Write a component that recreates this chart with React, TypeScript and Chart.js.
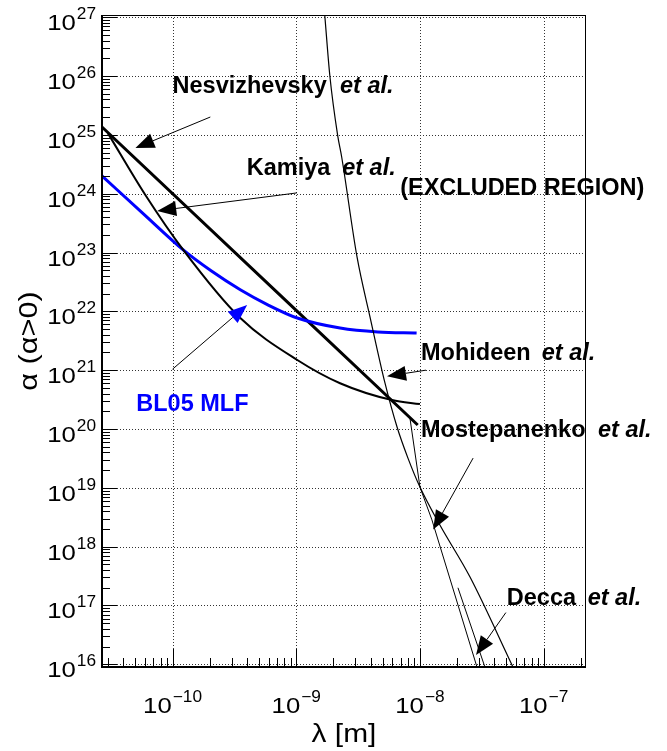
import React, { useEffect, useRef } from "react";
import { Chart, registerables } from "chart.js";

Chart.register(...registerables);

const W = 667;
const H = 751;

// ---------- axis ranges & ticks ----------
const xMin = 2.69e-11;
const xMax = 2.2e-7;
const yMin = 9.0e15;
const yMax = 1.09e27;

const xTickValues = [1e-10, 1e-9, 1e-8, 1e-7];
const xTickExponents = ["\u221210", "\u22129", "\u22128", "\u22127"];
const yTickValues = [1e16, 1e17, 1e18, 1e19, 1e20, 1e21, 1e22, 1e23, 1e24, 1e25, 1e26, 1e27];
const yTickExponents = ["16", "17", "18", "19", "20", "21", "22", "23", "24", "25", "26", "27"];

// ---------- curves ----------
// Nesvizhevsky et al. (thick)
const nesvX = [2.69e-11, 1.0e-9, 9.6e-9];
const nesvY = [1.36e25, 1.04e22, 1.17e20];

// Kamiya et al.
const kamiyaX = [3.0e-11, 6.03e-11, 1.22e-10, 3.53e-10, 1.02e-9, 2.26e-9, 5.95e-9, 1.0e-8];
const kamiyaY = [1.07e25, 9.5e23, 1.11e23, 7.7e21, 1.49e21, 6.0e20, 3.1e20, 2.65e20];

// BL05 MLF (blue)
const bl05X = [2.69e-11, 5.7e-11, 1.22e-10, 2.05e-10, 3.53e-10, 5.94e-10, 1.02e-9, 2.26e-9, 4.57e-9, 9.4e-9];
const bl05Y = [2.0e24, 4.73e23, 1.11e23, 4.9e22, 2.33e22, 1.28e22, 7.7e21, 5.2e21, 4.46e21, 4.29e21];

// Mohideen et al. (steep thin curve from the top)
const mohideenX = [1.7e-9, 1.87e-9, 2.16e-9, 2.33e-9, 3.1e-9, 3.95e-9, 5.22e-9, 6.53e-9, 8.0e-9, 1.0e-8, 1.45e-8, 2.54e-8, 5.65e-8];
const mohideenY = [1.09e27, 1.0e26, 9.9e24, 4.2e24, 8.4e22, 8.0e21, 6.0e20, 1.08e20, 3.2e19, 1.03e19, 2.33e18, 3.04e17, 9.0e15];

// Mostepanenko et al.
const mostepX = [8.3e-9, 1.0e-8, 1.25e-8, 2.89e-8];
const mostepY = [1.54e20, 1.03e19, 2.85e18, 9.0e15];

// Decca et al.
const deccaX = [2.03e-8, 3.35e-8];
const deccaY = [2.0e17, 9.0e15];

const toPts = (xs: number[], ys: number[]) => xs.map((x, i) => ({ x, y: ys[i] }));

// ---------- annotations (data coordinates) ----------
const labels = [
  { text: "Nesvizhevsky", x: 1.0e-10, y: 5.14e25, etAlX: 2.26e-9, color: "#000" },
  { text: "Kamiya", x: 3.98e-10, y: 2.07e24, etAlX: 2.35e-9, color: "#000" },
  { text: "(EXCLUDED REGION)", x: 6.92e-9, y: 9.5e23, etAlX: 0, color: "#000" },
  { text: "Mohideen", x: 1.02e-8, y: 1.49e21, etAlX: 9.66e-8, color: "#000" },
  { text: "Mostepanenko", x: 1.02e-8, y: 7.3e19, etAlX: 2.75e-7, color: "#000" },
  { text: "Decca", x: 5.04e-8, y: 1.03e17, etAlX: 2.27e-7, color: "#000" },
  { text: "BL05 MLF", x: 5.09e-11, y: 2.02e20, etAlX: 0, color: "#0000ff" },
];

const arrows = [
  { x1: 2.02e-10, y1: 2.01e25, x2: 5.01e-11, y2: 5.97e24, head: "#000" },
  { x1: 1.01e-9, y1: 1.03e24, x2: 7.52e-11, y2: 5.1e23, head: "#000" },
  { x1: 1.0e-10, y1: 1.04e21, x2: 4.01e-10, y2: 1.28e22, head: "#0000ff" },
  { x1: 1.12e-8, y1: 1.0e21, x2: 5.42e-9, y2: 7.9e20, head: "#000" },
  { x1: 2.69e-8, y1: 3.2e19, x2: 1.28e-8, y2: 1.95e18, head: "#000" },
  { x1: 4.95e-8, y1: 7.57e16, x2: 2.84e-8, y2: 1.44e16, head: "#000" },
];

const FONT = '"Liberation Sans", Arial, Helvetica, sans-serif';

function drawStretched(
  ctx: CanvasRenderingContext2D,
  text: string,
  x: number,
  y: number,
  font: string,
  sx: number,
  align: "left" | "center" | "right"
) {
  ctx.save();
  ctx.font = font;
  const w = ctx.measureText(text).width * sx;
  let x0 = x;
  if (align === "center") x0 = x - w / 2;
  else if (align === "right") x0 = x - w;
  ctx.translate(x0, y);
  ctx.scale(sx, 1);
  ctx.textAlign = "left";
  ctx.textBaseline = "alphabetic";
  ctx.fillText(text, 0, 0);
  ctx.restore();
  return w;
}

function measure(ctx: CanvasRenderingContext2D, text: string, font: string, sx: number) {
  ctx.save();
  ctx.font = font;
  const w = ctx.measureText(text).width * sx;
  ctx.restore();
  return w;
}

const rootPlugin = {
  id: "rootStyle",
  beforeDatasetsDraw(chart: any) {
    const { ctx, chartArea } = chart;
    const xs = chart.scales.x;
    const ys = chart.scales.y;
    ctx.save();
    ctx.strokeStyle = "#333";
    ctx.lineWidth = 1;
    ctx.setLineDash([1, 2]);
    for (const v of xTickValues) {
      const px = Math.round(xs.getPixelForValue(v)) + 0.5;
      ctx.beginPath();
      ctx.moveTo(px, chartArea.top);
      ctx.lineTo(px, chartArea.bottom);
      ctx.stroke();
    }
    for (const v of yTickValues) {
      const py = Math.round(ys.getPixelForValue(v)) + 0.5;
      ctx.beginPath();
      ctx.moveTo(chartArea.left, py);
      ctx.lineTo(chartArea.right, py);
      ctx.stroke();
    }
    ctx.restore();
  },
  afterDatasetsDraw(chart: any) {
    const { ctx, chartArea } = chart;
    const xs = chart.scales.x;
    const ys = chart.scales.y;
    const L = chartArea.left, R = chartArea.right, T = chartArea.top, B = chartArea.bottom;

    ctx.save();
    ctx.setLineDash([]);
    ctx.strokeStyle = "#000";
    // frame
    ctx.lineWidth = 1;
    ctx.beginPath();
    ctx.moveTo(L, T + 0.5);
    ctx.lineTo(R, T + 0.5);
    ctx.moveTo(R - 0.5, T);
    ctx.lineTo(R - 0.5, B);
    ctx.stroke();
    ctx.lineWidth = 2;
    ctx.beginPath();
    ctx.moveTo(L, T);
    ctx.lineTo(L, B + 1);
    ctx.moveTo(L - 1, B);
    ctx.lineTo(R, B);
    ctx.stroke();

    // ticks
    ctx.lineWidth = 1;
    ctx.beginPath();
    for (let d = 15; d <= 27; d++) {
      for (let k = 1; k <= 9; k++) {
        const v = k * Math.pow(10, d);
        if (v < yMin || v > yMax) continue;
        const py = Math.round(ys.getPixelForValue(v)) + 0.5;
        const len = k === 1 ? 15 : 8;
        ctx.moveTo(L, py);
        ctx.lineTo(L + len, py);
      }
    }
    for (let d = -12; d <= -7; d++) {
      for (let k = 1; k <= 9; k++) {
        const v = k * Math.pow(10, d);
        if (v < xMin || v > xMax) continue;
        const px = Math.round(xs.getPixelForValue(v)) + 0.5;
        const len = k === 1 ? 18 : 9;
        ctx.moveTo(px, B);
        ctx.lineTo(px, B - len);
      }
    }
    ctx.stroke();

    // tick labels
    ctx.fillStyle = "#000";
    const baseFont = `22px ${FONT}`;
    const expFont = `16px ${FONT}`;
    const sxBase = 1.17;
    const sxExp = 1.08;
    yTickValues.forEach((v, i) => {
      const py = ys.getPixelForValue(v);
      const we = measure(ctx, yTickExponents[i], expFont, sxExp);
      const wb = measure(ctx, "10", baseFont, sxBase);
      const right = 96;
      drawStretched(ctx, yTickExponents[i], right - we, py + 2, expFont, sxExp, "left");
      drawStretched(ctx, "10", right - we - wb - 1, py + 13, baseFont, sxBase, "left");
    });
    xTickValues.forEach((v, i) => {
      const px = xs.getPixelForValue(v);
      const we = measure(ctx, xTickExponents[i], expFont, sxExp);
      const wb = measure(ctx, "10", baseFont, sxBase);
      const total = wb + 1 + we;
      const x0 = px - total / 2;
      drawStretched(ctx, "10", x0, B + 46, baseFont, sxBase, "left");
      drawStretched(ctx, xTickExponents[i], x0 + wb + 1, B + 35, expFont, sxExp, "left");
    });

    // axis titles
    const titleFont = `26px ${FONT}`;
    drawStretched(ctx, "\u03bb [m]", (L + R) / 2, B + 75, titleFont, 1.15, "center");
    ctx.save();
    ctx.translate(37, (T + B) / 2);
    ctx.rotate(-Math.PI / 2);
    drawStretched(ctx, "\u03b1 (\u03b1>0)", 0, 0, titleFont, 1.18, "center");
    ctx.restore();

    // arrows
    for (const a of arrows) {
      const x1 = xs.getPixelForValue(a.x1);
      const y1 = ys.getPixelForValue(a.y1);
      const x2 = xs.getPixelForValue(a.x2);
      const y2 = ys.getPixelForValue(a.y2);
      const ang = Math.atan2(y2 - y1, x2 - x1);
      const hl = 19;
      const hw = 7.5;
      const bx = x2 - hl * Math.cos(ang);
      const by = y2 - hl * Math.sin(ang);
      ctx.strokeStyle = "#000";
      ctx.lineWidth = 1;
      ctx.beginPath();
      ctx.moveTo(x1, y1);
      ctx.lineTo(bx, by);
      ctx.stroke();
      ctx.fillStyle = a.head;
      ctx.beginPath();
      ctx.moveTo(x2, y2);
      ctx.lineTo(bx + hw * Math.sin(ang), by - hw * Math.cos(ang));
      ctx.lineTo(bx - hw * Math.sin(ang), by + hw * Math.cos(ang));
      ctx.closePath();
      ctx.fill();
    }

    // text labels
    const boldFont = `bold 23.5px ${FONT}`;
    const italicFont = `italic bold 23.5px ${FONT}`;
    for (const lb of labels) {
      ctx.fillStyle = lb.color;
      const px = xs.getPixelForValue(lb.x);
      const py = ys.getPixelForValue(lb.y);
      drawStretched(ctx, lb.text, px, py, boldFont, 1.0, "left");
      if (lb.etAlX) {
        const ex = xs.getPixelForValue(lb.etAlX);
        drawStretched(ctx, "et al.", ex, py, italicFont, 1.0, "left");
      }
    }
    ctx.restore();
  },
};

export default function App() {
  const ref = useRef<HTMLCanvasElement | null>(null);
  useEffect(() => {
    if (!ref.current) return;
    const lineDs = (label: string, xs: number[], ys: number[], color: string, width: number, smooth: boolean) => ({
      label,
      data: toPts(xs, ys),
      borderColor: color,
      backgroundColor: color,
      borderWidth: width,
      pointRadius: 0,
      showLine: true,
      fill: false,
      cubicInterpolationMode: smooth ? "monotone" : "default",
      tension: 0,
    });
    const chart = new Chart(ref.current, {
      type: "scatter",
      data: {
        datasets: [
          lineDs("Mohideen", mohideenX, mohideenY, "#000", 1.2, true),
          lineDs("Mostepanenko", mostepX, mostepY, "#000", 1, false),
          lineDs("Decca", deccaX, deccaY, "#000", 1, false),
          lineDs("Kamiya", kamiyaX, kamiyaY, "#000", 2, true),
          lineDs("BL05 MLF", bl05X, bl05Y, "#0000ff", 3, true),
          lineDs("Nesvizhevsky", nesvX, nesvY, "#000", 3, false),
        ] as any,
      },
      options: {
        responsive: false,
        animation: false,
        devicePixelRatio: 1,
        layout: { padding: { top: 15, right: 81, left: 0, bottom: 0 } },
        plugins: { legend: { display: false }, tooltip: { enabled: false } },
        scales: {
          x: {
            type: "logarithmic",
            min: xMin,
            max: xMax,
            grid: { display: false },
            border: { display: false },
            ticks: { display: false },
            afterFit: (s: any) => {
              s.height = 84;
            },
          },
          y: {
            type: "logarithmic",
            min: yMin,
            max: yMax,
            grid: { display: false },
            border: { display: false },
            ticks: { display: false },
            afterFit: (s: any) => {
              s.width = 102;
            },
          },
        },
      } as any,
      plugins: [rootPlugin as any],
    });
    return () => chart.destroy();
  }, []);
  return (
    <div style={{ position: "absolute", left: 0, top: 0, width: W, height: H, background: "#fff" }}>
      <canvas ref={ref} width={W} height={H} style={{ display: "block" }} />
    </div>
  );
}
